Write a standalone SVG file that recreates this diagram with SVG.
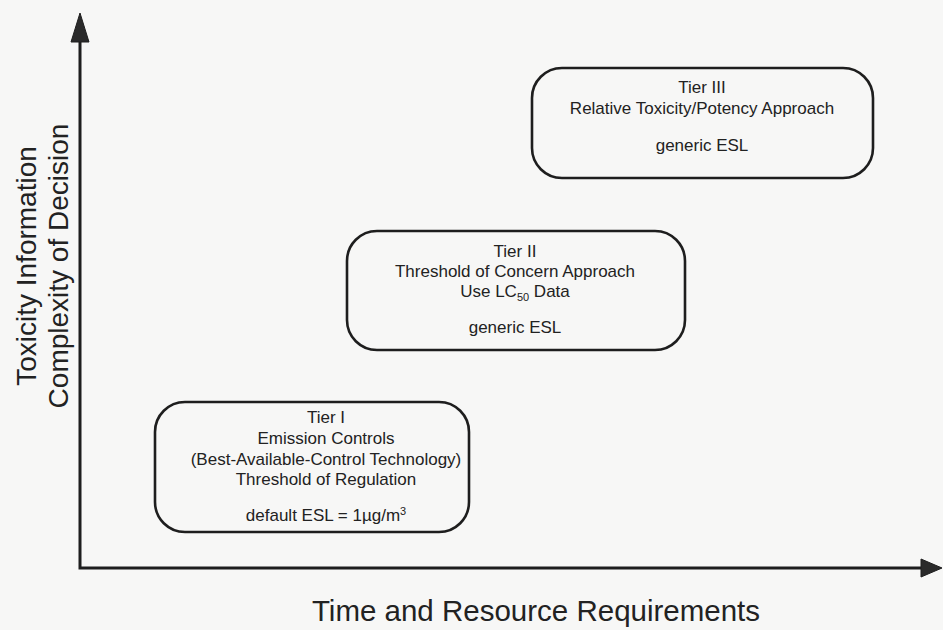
<svg xmlns="http://www.w3.org/2000/svg" width="943" height="630" viewBox="0 0 943 630">
<style>
.bg{fill:#f7f7f6}
.box{fill:none;stroke:#1e1e1e;stroke-width:2.6}
.t{font-family:"Liberation Sans",Arial,sans-serif;font-size:17px;fill:#222;text-anchor:middle}
.ax{font-family:"Liberation Sans",Arial,sans-serif;font-size:28px;fill:#222;text-anchor:middle}
.axx{font-size:29.5px}
.axis{fill:none;stroke:#1e1e1e;stroke-width:3}
.head{fill:#2a2a2a;stroke:#1e1e1e;stroke-width:1}
</style>
<rect class="bg" x="0" y="0" width="943" height="630"/>
<g id="connectors">
  <polyline class="axis" points="80,40 80,568 923,568"/>
  <polygon class="head" points="80,13 71,42 89,42"/>
  <polygon class="head" points="942,568 921,559 921,577"/>
</g>
<g id="y-label">
  <text class="ax" transform="translate(36,266) rotate(-90)">Toxicity Information</text>
  <text class="ax" transform="translate(68,266) rotate(-90)">Complexity of Decision</text>
</g>
<g id="x-label">
  <text class="ax axx" x="536" y="621">Time and Resource Requirements</text>
</g>
<g id="tier1">
  <rect class="box" x="155" y="402" width="314" height="130" rx="30" ry="30"/>
  <text class="t" x="326" y="423">Tier I</text>
  <text class="t" x="326" y="444">Emission Controls</text>
  <text class="t" x="326" y="465">(Best-Available-Control Technology)</text>
  <text class="t" x="326" y="485">Threshold of Regulation</text>
  <text class="t" x="326" y="521">default ESL = 1µg/m<tspan font-size="11" dy="-6">3</tspan></text>
</g>
<g id="tier2">
  <rect class="box" x="347" y="231" width="338" height="119" rx="30" ry="30"/>
  <text class="t" x="515" y="257">Tier II</text>
  <text class="t" x="515" y="277">Threshold of Concern Approach</text>
  <text class="t" x="515" y="297">Use LC<tspan font-size="11" dy="4">50</tspan><tspan dy="-4"> Data</tspan></text>
  <text class="t" x="515" y="333">generic ESL</text>
</g>
<g id="tier3">
  <rect class="box" x="532" y="68" width="341" height="110" rx="30" ry="30"/>
  <text class="t" x="702" y="93">Tier III</text>
  <text class="t" x="702" y="114">Relative Toxicity/Potency Approach</text>
  <text class="t" x="702" y="151">generic ESL</text>
</g>
</svg>
